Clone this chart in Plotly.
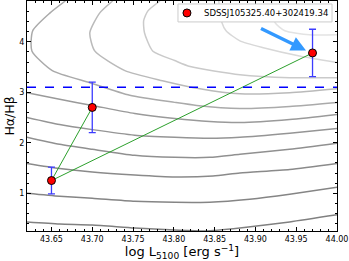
import plotly.graph_objects as go

# Observations
obs_logL = [43.65, 43.70, 43.97]
obs_ratio = [1.25, 2.70, 3.78]
obs_err = [0.265, 0.50, 0.47]
obj_name = "SDSSJ105325.40+302419.34"
ref_ratio = 3.1

# Model contours (lower, darker family)
c1_x = [43.620, 43.660, 43.700, 43.752, 43.801, 43.838, 43.881, 43.942, 44.000]
c1_y = [0.43, 0.39, 0.37, 0.31, 0.27, 0.25, 0.31, 0.43, 0.57]
c2_x = [43.620, 43.660, 43.700, 43.752, 43.801, 43.844, 43.893, 43.942, 44.000]
c2_y = [1.00, 0.94, 0.90, 0.84, 0.82, 0.82, 0.88, 0.98, 1.12]
c3_x = [43.620, 43.660, 43.700, 43.752, 43.801, 43.848, 43.881, 43.942, 44.000]
c3_y = [1.59, 1.49, 1.42, 1.36, 1.32, 1.34, 1.40, 1.47, 1.59]
c4_x = [43.620, 43.660, 43.700, 43.752, 43.801, 43.844, 43.881, 43.942, 44.000]
c4_y = [2.11, 1.97, 1.87, 1.75, 1.71, 1.71, 1.77, 1.87, 1.99]
c5_x = [43.620, 43.660, 43.700, 43.752, 43.801, 43.844, 43.881, 43.942, 44.000]
c5_y = [2.50, 2.36, 2.26, 2.15, 2.11, 2.09, 2.11, 2.19, 2.28]
c6_x = [43.620, 43.660, 43.700, 43.752, 43.801, 43.844, 43.881, 43.942, 44.000]
c6_y = [2.99, 2.86, 2.74, 2.58, 2.48, 2.42, 2.40, 2.46, 2.56]

# Upper, lighter U-shaped family
u1_x = [43.667, 43.648, 43.627, 43.626, 43.651, 43.697, 43.746, 43.801, 43.828, 43.881, 43.942, 44.000]
u1_y = [4.81, 4.57, 4.22, 3.82, 3.43, 3.19, 2.94, 2.80, 2.74, 2.68, 2.72, 2.80]
u2_x = [43.725, 43.709, 43.697, 43.703, 43.740, 43.786, 43.832, 43.881, 43.942, 44.000]
u2_y = [4.81, 4.57, 4.18, 3.82, 3.43, 3.23, 3.07, 2.97, 2.99, 3.07]
u3_x = [43.783, 43.768, 43.763, 43.764, 43.774, 43.801, 43.820, 43.881, 43.942, 44.000]
u3_y = [4.81, 4.61, 4.42, 4.18, 3.82, 3.63, 3.51, 3.35, 3.29, 3.29]
u4_x = [43.855, 43.859, 43.864, 43.881, 43.911, 43.954, 44.000]
u4_y = [4.81, 4.38, 4.22, 4.02, 3.88, 3.72, 3.59]
u5_x = [43.920, 43.924, 43.936, 43.966, 44.000]
u5_y = [4.81, 4.38, 4.22, 4.14, 4.14]

contours = [
    (c1_x, c1_y, "#808080"), (c2_x, c2_y, "#858585"), (c3_x, c3_y, "#8a8a8a"),
    (c4_x, c4_y, "#909090"), (c5_x, c5_y, "#959595"), (c6_x, c6_y, "#9a9a9a"),
    (u1_x, u1_y, "#aaaaaa"), (u2_x, u2_y, "#bababa"), (u3_x, u3_y, "#cacaca"),
    (u4_x, u4_y, "#d8d8d8"), (u5_x, u5_y, "#e3e3e3"),
]

# Arrow (tail -> head) in data units
arrow_tail = (43.905, 4.28)
arrow_head = (43.962, 3.83)

fig = go.Figure()
for cx, cy, col in contours:
    fig.add_trace(go.Scatter(x=cx, y=cy, mode="lines",
                             line=dict(color=col, width=1.5, shape="spline", smoothing=0.6),
                             showlegend=False, hoverinfo="skip"))

fig.add_hline(y=ref_ratio, line=dict(color="blue", width=1.3, dash="dash"))

# connecting lines
fig.add_trace(go.Scatter(x=[obs_logL[1], obs_logL[0], obs_logL[2]],
                         y=[obs_ratio[1], obs_ratio[0], obs_ratio[2]],
                         mode="lines", line=dict(color="#2ca02c", width=1), showlegend=False))

fig.add_trace(go.Scatter(x=obs_logL, y=obs_ratio, mode="markers", name=obj_name, showlegend=False,
                         marker=dict(color="red", size=8, line=dict(color="black", width=1)),
                         error_y=dict(type="data", array=obs_err, color="rgb(60,60,255)",
                                      thickness=1.3, width=3.5)))

fig.add_annotation(x=arrow_head[0], y=arrow_head[1], ax=arrow_tail[0], ay=arrow_tail[1],
                   xref="x", yref="y", axref="x", ayref="y", text="", showarrow=True,
                   arrowhead=2, arrowsize=0.85, arrowwidth=3.5, arrowcolor="#3399ff")

# Legend box (matplotlib-style, drawn manually)
fig.add_shape(type="rect", xref="paper", yref="paper", x0=0.487, x1=0.984, y0=0.909, y1=0.987,
              fillcolor="white", line=dict(color="#cccccc", width=1), layer="above")
fig.add_shape(type="circle", xref="paper", yref="paper", xsizemode="pixel", ysizemode="pixel",
              xanchor=0.516, yanchor=0.948, x0=-4, x1=4, y0=-4, y1=4,
              fillcolor="red", line=dict(color="black", width=1), layer="above")
fig.add_annotation(x=0.565, y=0.948, xref="paper", yref="paper", xanchor="left", yanchor="middle",
                   text=obj_name, showarrow=False,
                   font=dict(family="DejaVu Sans", size=8.5, color="black"))

axis_common = dict(showline=True, linecolor="black", linewidth=1, mirror="allticks",
                   ticks="inside", ticklen=4, tickcolor="black", showgrid=False, zeroline=False,
                   automargin=False,
                   tickfont=dict(family="DejaVu Sans", size=8, color="black"))

fig.update_xaxes(range=[43.62, 44.00], dtick=0.05, tickformat=".2f",
                 minor=dict(ticks="inside", dtick=0.01, ticklen=2, tickcolor="black"),
                 title=dict(text="log L<sub>5100</sub> [erg s<sup>−1</sup>]",
                            font=dict(family="DejaVu Sans", size=13, color="black"), standoff=0),
                 **axis_common)
fig.update_yaxes(range=[0.25, 4.81], dtick=1,
                 minor=dict(ticks="inside", dtick=0.2, ticklen=2, tickcolor="black"),
                 title=dict(text="Hα/Hβ", font=dict(family="DejaVu Sans", size=12.5, color="black"),
                            standoff=1),
                 **axis_common)

fig.update_layout(width=349, height=261, margin=dict(l=27, r=12, t=1, b=30),
                  plot_bgcolor="white", paper_bgcolor="white", showlegend=False)

fig.write_html("out.html", config={"displayModeBar": False},
               post_script="document.body.style.margin='0';document.body.style.overflow='hidden';")
